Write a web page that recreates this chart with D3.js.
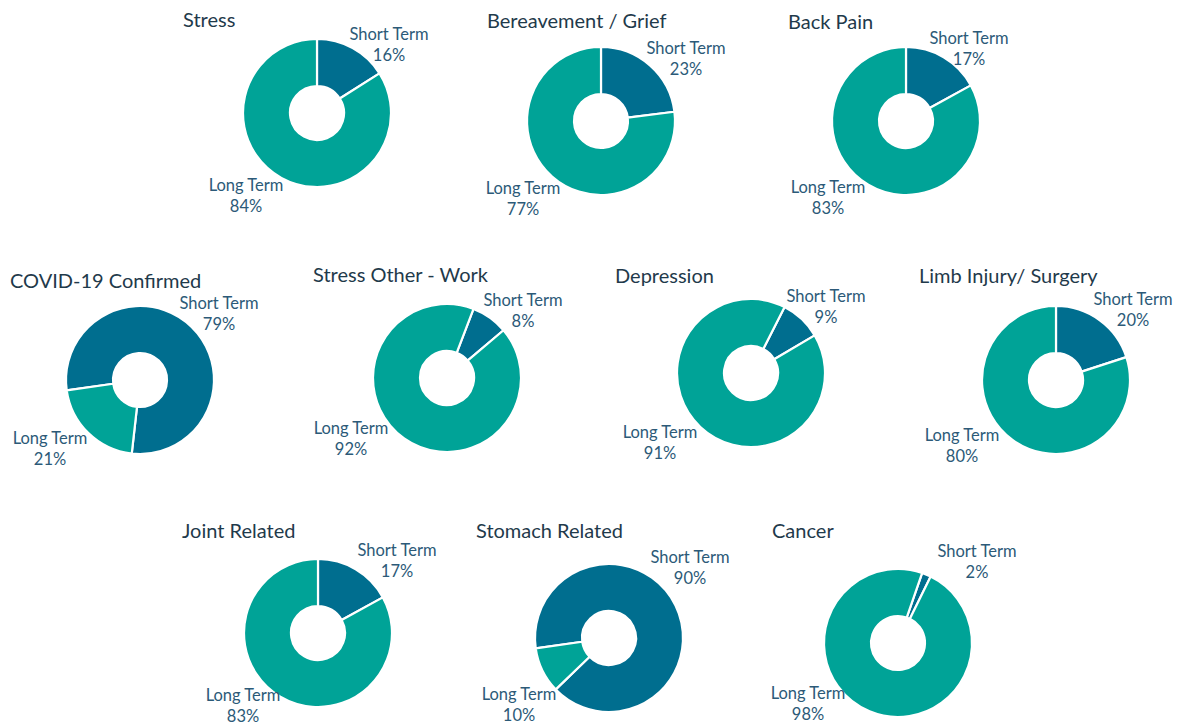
<!DOCTYPE html>
<html>
<head>
<meta charset="utf-8">
<script src="https://cdn.jsdelivr.net/npm/d3@7"></script>
<style>
  html, body { margin: 0; padding: 0; background: #ffffff; }
  svg { display: block; }
  text { font-family: Lato, "Open Sans", sans-serif; }
</style>
</head>
<body>
<svg id="chart" width="1181" height="727"></svg>
<script>
// ---- data ----
const categories = ["Stress", "Bereavement / Grief", "Back Pain",
  "COVID-19 Confirmed", "Stress Other - Work", "Depression", "Limb Injury/ Surgery",
  "Joint Related", "Stomach Related", "Cancer"];
const seriesNames = ["Short Term", "Long Term"];
const shortTerm = [16, 23, 17, 79, 8, 9, 20, 17, 90, 2];
const longTerm  = [84, 77, 83, 21, 92, 91, 80, 83, 10, 98];

// ---- layout (per chart) ----
const centers = [[317,113],[601,121],[906,121],[140,380],[447,378],[751,373],[1056,380],[318,633],[609,638],[898,643]];
const titlePos = [[183,19],[487,20],[788,21],[10,280],[313,274],[615,275],[919,275],[182,530],[476,530],[772,530]];
const firstSliceDeg = [0, 0, 0, 262, 21, 27, 0, 0, 262, 19];
const shortLabelOff = [[72,-79],[85,-73],[63,-83],[79,-77],[76,-78],[75,-77],[77,-81],[79,-83],[81,-81],[79,-92]];
const longLabelOff  = [[-71,72],[-78,67],[-78,66],[-90,58],[-96,50],[-91,59],[-94,55],[-75,62],[-90,56],[-90,50]];

const colors = d3.scaleOrdinal().domain(seriesNames).range(["#006e8f", "#00a397"]);
const outerR = 74, innerR = 27;

const svg = d3.select("#chart");
const arc = d3.arc().innerRadius(innerR).outerRadius(outerR);

categories.forEach((cat, i) => {
  const data = seriesNames.map((s, k) => ({ name: s, value: k === 0 ? shortTerm[i] : longTerm[i] }));
  const a0 = firstSliceDeg[i] * Math.PI / 180;
  const pie = d3.pie().sort(null).value(d => d.value).startAngle(a0).endAngle(a0 + 2 * Math.PI);
  const [cx, cy] = centers[i];
  const g = svg.append("g").attr("transform", `translate(${cx},${cy})`);

  g.selectAll("path").data(pie(data)).join("path")
    .attr("d", arc)
    .attr("fill", d => colors(d.data.name))
    .attr("stroke", "#ffffff")
    .attr("stroke-width", 2.2)
    .attr("stroke-linejoin", "round");

  // title
  svg.append("text")
    .attr("x", titlePos[i][0]).attr("y", titlePos[i][1])
    .attr("dominant-baseline", "central")
    .attr("fill", "#1f3a4b")
    .attr("font-size", 20)
    .text(cat);

  // labels
  data.forEach((d, k) => {
    const off = k === 0 ? shortLabelOff[i] : longLabelOff[i];
    const t = g.append("text")
      .attr("text-anchor", "middle")
      .attr("fill", "#2c5a78")
      .attr("font-size", 16.5);
    t.append("tspan").attr("x", off[0]).attr("y", off[1]).attr("dominant-baseline", "central").text(d.name);
    t.append("tspan").attr("x", off[0]).attr("y", off[1] + 21).attr("dominant-baseline", "central").text(d.value + "%");
  });
});
</script>
</body>
</html>
